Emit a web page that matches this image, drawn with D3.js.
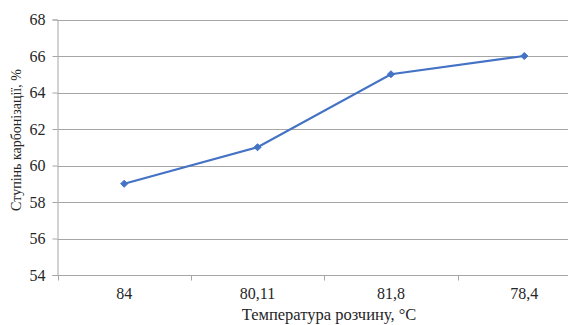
<!DOCTYPE html>
<html><head><meta charset="utf-8">
<script src="https://cdn.jsdelivr.net/npm/d3@7"></script>
<style>
html,body{margin:0;padding:0;background:#fff;}
svg{display:block;}
</style></head>
<body>
<svg id="chart" width="568" height="325"></svg>
<script>
// Temperature categories (x axis) and carbonisation degree values
const categories = ["84", "80,11", "81,8", "78,4"];
const values = [59, 61, 65, 66];
const yTicks = [54, 56, 58, 60, 62, 64, 66, 68];
const xTitle = "Температура розчину, °C";
const yTitle = "Ступінь карбонізації, %";

(function () {
const FONT = "Liberation Serif";
const TXT = "#262626";
const svg = d3.select("#chart");
const plotLeft = 57.5, plotRight = 591, plotTop = 19.5, plotBottom = 275;

const x = d3.scaleBand().domain(categories).range([plotLeft, plotRight]);
const y = d3.scaleLinear().domain([54, 68]).range([plotBottom, plotTop]);

// horizontal gridlines
svg.append("g").selectAll("line").data(yTicks.slice(1)).join("line")
  .attr("x1", plotLeft).attr("x2", plotRight)
  .attr("y1", d => Math.round(y(d)) + 0.5).attr("y2", d => Math.round(y(d)) + 0.5)
  .attr("stroke", "#a6a6a6").attr("stroke-width", 1);

// y axis
const yAxis = svg.append("g").attr("transform", `translate(${plotLeft},0)`)
  .call(d3.axisLeft(y).tickValues(yTicks).tickSize(5).tickPadding(7).tickFormat(d3.format("d")));
yAxis.attr("font-family", FONT);
yAxis.select(".domain").attr("stroke", "#a6a6a6");
yAxis.selectAll(".tick line").attr("stroke", "#a6a6a6");
yAxis.selectAll(".tick text").attr("font-size", 16).attr("fill", TXT)
  .style("font-family", FONT);

// x axis: labels centred in bands, ticks on band boundaries
const xAxisG = svg.append("g").attr("transform", `translate(0,${Math.round(plotBottom) + 0.5})`);
xAxisG.append("line").attr("x1", plotLeft).attr("x2", plotRight).attr("stroke", "#a6a6a6");
const bounds = categories.map(c => x(c)).concat([x.range()[1]]);
xAxisG.selectAll("line.tk").data(bounds).join("line").attr("class", "tk")
  .attr("x1", d => Math.round(d) + 0.5).attr("x2", d => Math.round(d) + 0.5)
  .attr("y1", 0).attr("y2", 5).attr("stroke", "#a6a6a6");
xAxisG.selectAll("text").data(categories).join("text")
  .attr("x", d => x(d) + x.bandwidth() / 2).attr("y", 23)
  .attr("text-anchor", "middle").attr("font-size", 16).attr("fill", TXT)
  .style("font-family", FONT)
  .text(d => d);

// axis titles
svg.append("text").attr("x", 329).attr("y", 320)
  .attr("text-anchor", "middle").attr("font-size", 16.5).attr("fill", TXT)
  .style("font-family", FONT).text(xTitle);
svg.append("text").attr("transform", "translate(21,140) rotate(-90)")
  .attr("text-anchor", "middle").attr("font-size", 14).attr("fill", TXT)
  .style("font-family", FONT).text(yTitle);

// data line and diamond markers
const cx = d => x(d) + x.bandwidth() / 2;
const line = d3.line().x((d, i) => cx(categories[i])).y(d => y(d));
svg.append("path").datum(values).attr("d", line)
  .attr("fill", "none").attr("stroke", "#4472c4").attr("stroke-width", 2.25);
svg.append("g").selectAll("path").data(values).join("path")
  .attr("transform", (d, i) => `translate(${cx(categories[i])},${y(d)})`)
  .attr("d", d3.symbol(d3.symbolDiamond2, 32)())
  .attr("fill", "#4472c4").attr("stroke", "#4472c4").attr("stroke-width", 1);
})();
</script>
</body></html>
